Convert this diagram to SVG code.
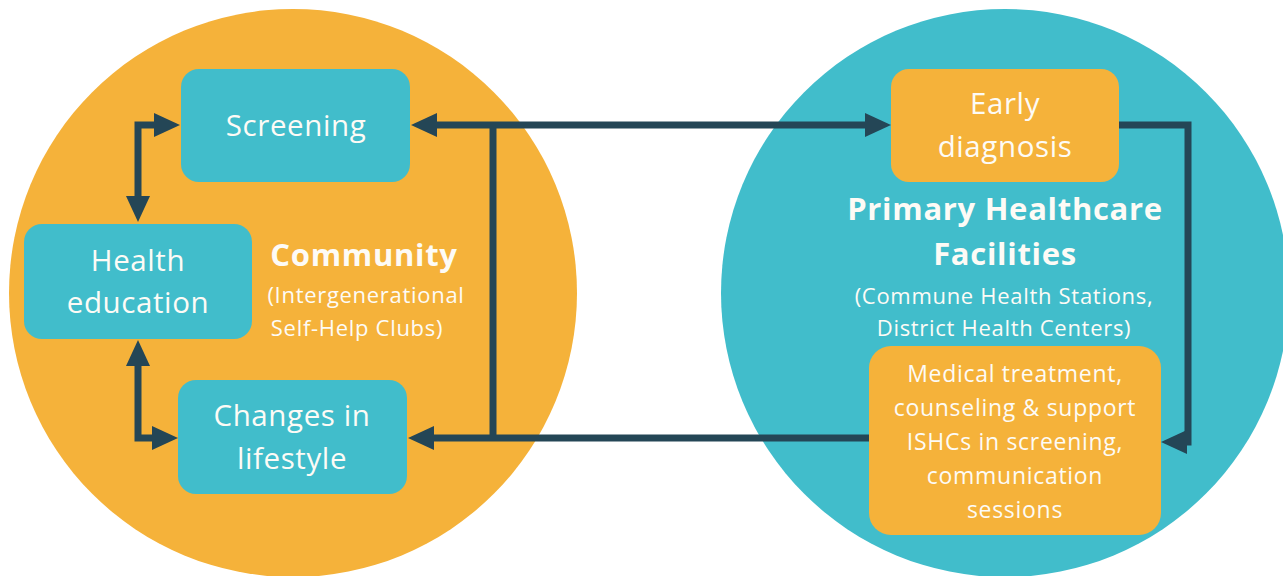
<svg xmlns="http://www.w3.org/2000/svg" width="1283" height="576" viewBox="0 0 1283 576">
<style>
.t{font-family:"Open Sans","Noto Sans",sans-serif;fill:#FDFBF6;text-anchor:middle}
.box{font-size:29.5px;letter-spacing:0.6px}
.ttl{font-size:31px;font-weight:bold;letter-spacing:0.7px}
.sub{font-size:22px;letter-spacing:0.7px}
.med{font-size:23px;letter-spacing:0.7px}
.c{fill:none;stroke:#244656;stroke-width:7}
</style>
<defs>
<marker id="ah" markerUnits="userSpaceOnUse" markerWidth="26" markerHeight="26" refX="16" refY="13" orient="auto-start-reverse" viewBox="0 0 26 26">
<path d="M0,1 L26,13 L0,25 z" fill="#244656"/>
</marker>
</defs>
<rect width="1283" height="576" fill="#FFFFFF"/>
<g id="community">
<circle cx="293" cy="293" r="284" fill="#F5B23A"/>
<text class="t ttl" x="364" y="266">Community</text>
<text class="t sub" x="366" y="303">(Intergenerational</text>
<text class="t sub" x="357" y="336">Self-Help Clubs)</text>
</g>
<g id="phc">
<circle cx="1005" cy="293" r="284" fill="#41BDCB"/>
<text class="t ttl" x="1005" y="220">Primary Healthcare</text>
<text class="t ttl" x="1005" y="265">Facilities</text>
<text class="t sub" x="1004" y="304">(Commune Health Stations,</text>
<text class="t sub" x="1004" y="336">District Health Centers)</text>
</g>
<g id="screening">
<rect x="181" y="69" width="229" height="113" rx="18" fill="#41BDCB"/>
<text class="t box" x="296" y="136">Screening</text>
</g>
<g id="health-education">
<rect x="24" y="224" width="228" height="115" rx="18" fill="#41BDCB"/>
<text class="t box" x="138" y="271">Health</text>
<text class="t box" x="138" y="313">education</text>
</g>
<g id="changes-lifestyle">
<rect x="178" y="380" width="229" height="114" rx="18" fill="#41BDCB"/>
<text class="t box" x="292" y="426">Changes in</text>
<text class="t box" x="292" y="469">lifestyle</text>
</g>
<g id="early-diagnosis">
<rect x="891" y="69" width="228" height="113" rx="18" fill="#F5B23A"/>
<text class="t box" x="1005" y="114">Early</text>
<text class="t box" x="1005" y="157">diagnosis</text>
</g>
<g id="medical-treatment">
<rect x="869" y="346" width="292" height="189" rx="22" fill="#F5B23A"/>
<text class="t med" x="1015" y="382">Medical treatment,</text>
<text class="t med" x="1015" y="416">counseling &amp; support</text>
<text class="t med" x="1015" y="450">ISHCs in screening,</text>
<text class="t med" x="1015" y="484">communication</text>
<text class="t med" x="1015" y="518">sessions</text>
</g>
<g id="connectors">
<path class="c" d="M421,125 H881" marker-start="url(#ah)" marker-end="url(#ah)"/>
<path class="c" d="M493,125 V438"/>
<path class="c" d="M869,438 H418" marker-end="url(#ah)"/>
<path class="c" d="M1119,125 H1188 V442 H1171" marker-end="url(#ah)"/>
<path class="c" d="M170,125 H138 V212" marker-start="url(#ah)" marker-end="url(#ah)"/>
<path class="c" d="M138,350 V438 H168" marker-start="url(#ah)" marker-end="url(#ah)"/>
</g>
</svg>
